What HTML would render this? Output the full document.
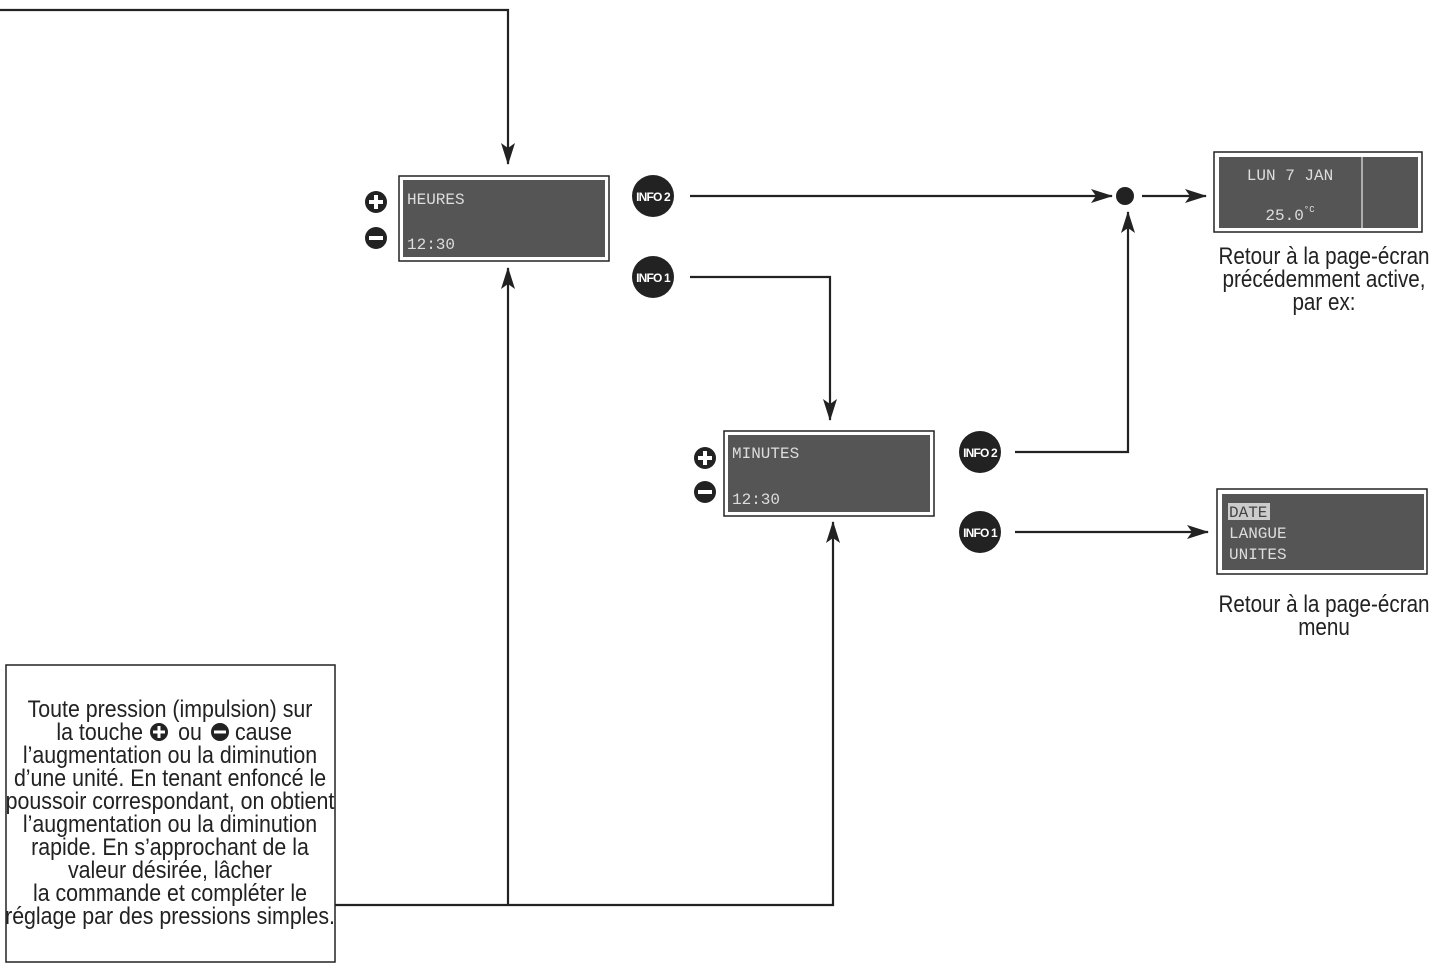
<!DOCTYPE html>
<html><head><meta charset="utf-8"><style>
html,body{margin:0;padding:0;background:#fff;}
svg{display:block;}
.c{font-family:"Liberation Sans",sans-serif;fill:#222;}
.m{font-family:"Liberation Mono",monospace;fill:#ddd;font-size:16px;}
.b{font-family:"Liberation Sans",sans-serif;font-weight:bold;fill:#fff;font-size:12px;letter-spacing:-0.8px;}
</style></head><body>
<svg width="1431" height="965" viewBox="0 0 1431 965" xmlns="http://www.w3.org/2000/svg">
<defs>
<marker id="a" markerWidth="22" markerHeight="14" refX="21" refY="7" orient="auto" markerUnits="userSpaceOnUse">
<path d="M0,0 L22,7 L0,14 L5,7 Z" fill="#222"/></marker>
</defs>
<g stroke="#222" stroke-width="2.2" fill="none">
<polyline points="0,10 508,10 508,164" marker-end="url(#a)"/>
<line x1="690" y1="196" x2="1112" y2="196" marker-end="url(#a)"/>
<line x1="1142" y1="196" x2="1206" y2="196" marker-end="url(#a)"/>
<polyline points="690,277 830,277 830,420" marker-end="url(#a)"/>
<polyline points="1015,452 1128,452 1128,212" marker-end="url(#a)"/>
<line x1="1015" y1="532" x2="1208" y2="532" marker-end="url(#a)"/>
<polyline points="335,905 833,905 833,522" marker-end="url(#a)"/>
<line x1="508" y1="905" x2="508" y2="268" marker-end="url(#a)"/>
</g>
<circle cx="1125" cy="196" r="9" fill="#222"/>
<rect x="399" y="176" width="210" height="85" fill="#fff" stroke="#222" stroke-width="1.5"/>
<rect x="403" y="180" width="202" height="77" fill="#555"/>
<text x="407" y="204" class="m">HEURES</text>
<text x="407" y="249" class="m">12:30</text>
<rect x="724" y="431" width="210" height="85" fill="#fff" stroke="#222" stroke-width="1.5"/>
<rect x="728" y="435" width="202" height="77" fill="#555"/>
<text x="732" y="458" class="m">MINUTES</text>
<text x="732" y="504" class="m">12:30</text>
<rect x="1214" y="152" width="208" height="80" fill="#fff" stroke="#222" stroke-width="1.5"/>
<rect x="1219" y="157" width="199" height="71" fill="#555"/>
<line x1="1362" y1="157" x2="1362" y2="228" stroke="#ccc" stroke-width="1.5"/>
<text x="1290" y="180" class="m" text-anchor="middle">LUN 7 JAN</text>
<text x="1290" y="220" class="m" text-anchor="middle">25.0<tspan font-size="9" dy="-8">°C</tspan></text>
<rect x="1217" y="489" width="210" height="85" fill="#fff" stroke="#222" stroke-width="1.5"/>
<rect x="1222" y="494" width="202" height="76" fill="#555"/>
<rect x="1228" y="503" width="42" height="17" fill="#ccc"/>
<text x="1229" y="517" class="m" style="fill:#444">DATE</text>
<text x="1229" y="538" class="m">LANGUE</text>
<text x="1229" y="559" class="m">UNITES</text>
<g fill="#222">
<circle cx="376" cy="202" r="11"/><circle cx="376" cy="238" r="11"/>
<circle cx="705" cy="458" r="11"/><circle cx="705" cy="492" r="11"/>
</g>
<g fill="#fff">
<rect x="369" y="200" width="14" height="4"/><rect x="374" y="195" width="4" height="14"/>
<rect x="369" y="236" width="14" height="4"/>
<rect x="698" y="456" width="14" height="4"/><rect x="703" y="451" width="4" height="14"/>
<rect x="698" y="490" width="14" height="4"/>
</g>
<g fill="#222">
<circle cx="653" cy="196" r="21"/><circle cx="653" cy="277" r="21"/>
<circle cx="980" cy="452" r="21"/><circle cx="980" cy="532" r="21"/>
</g>
<text x="653" y="201" class="b" text-anchor="middle">INFO 2</text>
<text x="653" y="282" class="b" text-anchor="middle">INFO 1</text>
<text x="980" y="457" class="b" text-anchor="middle">INFO 2</text>
<text x="980" y="537" class="b" text-anchor="middle">INFO 1</text>
<g transform="translate(1324,0) scale(0.86,1)">
<g class="c" font-size="24" text-anchor="middle">
<text x="0" y="264">Retour à la page-écran</text>
<text x="0" y="287">précédemment active,</text>
<text x="0" y="310">par ex:</text>
<text x="0" y="612">Retour à la page-écran</text>
<text x="0" y="635">menu</text>
</g></g>
<rect x="6" y="665" width="329" height="297" fill="#fff" stroke="#222" stroke-width="1.5"/>
<g transform="translate(170,0) scale(0.89,1)">
<g class="c" font-size="24" text-anchor="middle">
<text x="0" y="717">Toute pression (impulsion) sur</text>
<text x="0" y="763">l’augmentation ou la diminution</text>
<text x="0" y="786">d’une unité. En tenant enfoncé le</text>
<text x="0" y="809">poussoir correspondant, on obtient</text>
<text x="0" y="832">l’augmentation ou la diminution</text>
<text x="0" y="855">rapide. En s’approchant de la</text>
<text x="0" y="878">valeur désirée, lâcher</text>
<text x="0" y="901">la commande et compléter le</text>
<text x="0" y="924">réglage par des pressions simples.</text>
</g></g>
<g class="c" font-size="24">
<text x="143" y="740" text-anchor="end" transform="translate(143,0) scale(0.89,1) translate(-143,0)">la touche</text>
<text x="190" y="740" text-anchor="middle" transform="translate(190,0) scale(0.89,1) translate(-190,0)">ou</text>
<text x="235" y="740" transform="translate(235,0) scale(0.89,1) translate(-235,0)">cause</text>
</g>
<circle cx="159" cy="732" r="9" fill="#222"/><rect x="153" y="730.5" width="12" height="3" fill="#fff"/><rect x="157.5" y="726" width="3" height="12" fill="#fff"/>
<circle cx="220" cy="732" r="9" fill="#222"/><rect x="214" y="730.5" width="12" height="3" fill="#fff"/>
</svg>
</body></html>
